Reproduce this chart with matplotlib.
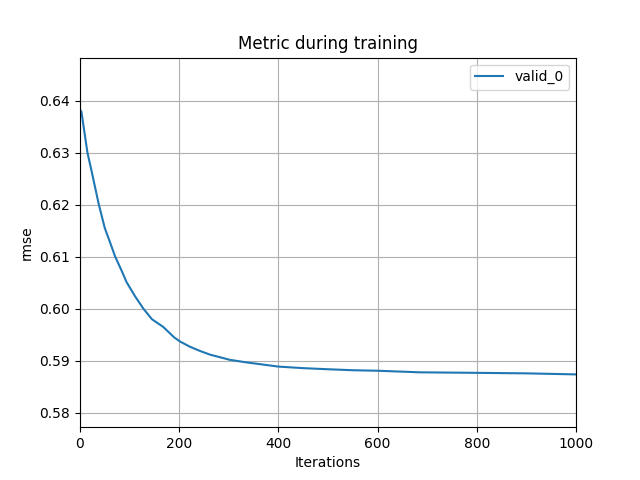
import matplotlib
matplotlib.use('Agg')
import matplotlib.pyplot as plt

# Values (iteration -> rmse)
iterations = [1, 3, 8, 15, 23, 38, 50, 60, 71, 84, 94, 111, 128, 145, 168,
              190, 202, 222, 242, 262, 302, 336, 400, 450, 497, 550, 601,
              685, 800, 900, 1000]
rmse = [0.6381, 0.6378, 0.6345, 0.6300, 0.6266, 0.6200, 0.6155, 0.6129,
        0.6100, 0.6073, 0.6051, 0.6024, 0.6000, 0.5980, 0.5965, 0.5945,
        0.5937, 0.5927, 0.5919, 0.5912, 0.5902, 0.5897, 0.5889, 0.5886,
        0.5884, 0.5882, 0.5881, 0.5878, 0.5877, 0.5876, 0.5874]

num_iterations = 1000

fig, ax = plt.subplots(figsize=(6.4, 4.8), dpi=100)
ax.plot(iterations, rmse, label='valid_0')
ax.legend(loc='best')

ax.set_xlim(0, num_iterations)
rng = max(rmse) - min(rmse)
ax.set_ylim(min(rmse) - rng * 0.2, max(rmse) + rng * 0.2)

ax.set_title('Metric during training')
ax.set_xlabel('Iterations')
ax.set_ylabel('rmse')
ax.grid(True)

plt.savefig('out.png')
